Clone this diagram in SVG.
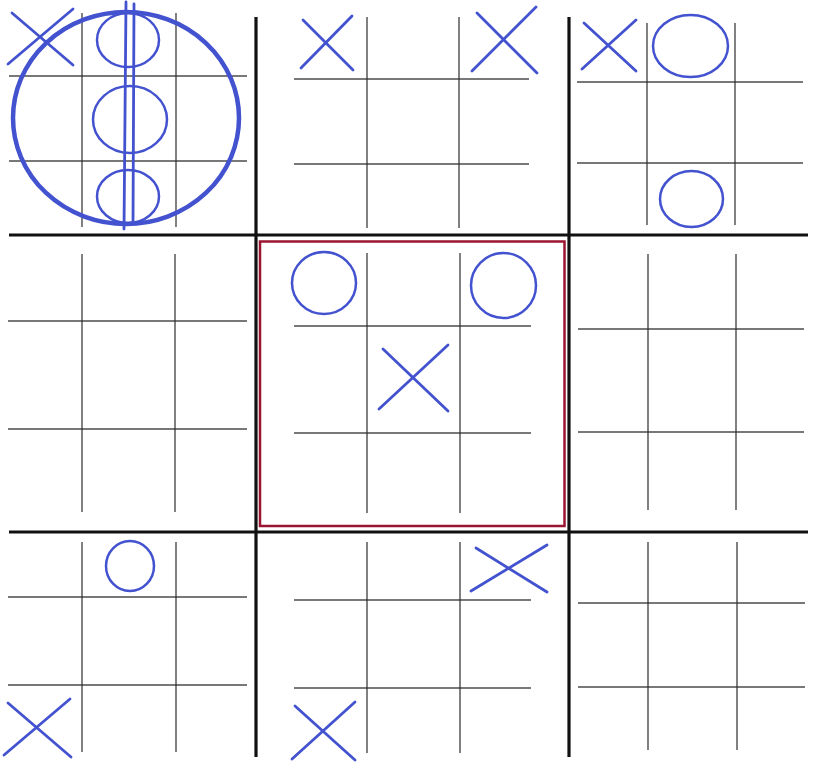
<svg xmlns="http://www.w3.org/2000/svg" width="825" height="770" viewBox="0 0 825 770">
<style>
.bg{fill:#ffffff}
.main{stroke:#111;stroke-width:3.2;fill:none;stroke-linecap:butt}
.sub{stroke:#2a2a2a;stroke-width:1.4;fill:none;opacity:0.85}
.m{stroke:#4352cf;stroke-width:2.8;fill:none;stroke-linecap:round}
.o{stroke:#4352cf;stroke-width:2.5;fill:none}
.big{stroke:#4352cf;stroke-width:4.5;fill:none}
.sel{stroke:#9b1530;stroke-width:2.5;fill:none}
</style>
<rect class="bg" x="0" y="0" width="825" height="770"/>
<g id="main-grid">
<line class="main" x1="256" y1="17" x2="256" y2="757"/>
<line class="main" x1="569" y1="17" x2="569" y2="757"/>
<line class="main" x1="9" y1="235" x2="808" y2="235"/>
<line class="main" x1="9" y1="532" x2="808" y2="532"/>
</g>
<g id="board-0">
<line class="sub" x1="82" y1="13" x2="82" y2="227"/>
<line class="sub" x1="176" y1="13" x2="176" y2="227"/>
<line class="sub" x1="9" y1="76" x2="247" y2="76"/>
<line class="sub" x1="9" y1="161" x2="247" y2="161"/>
<line class="m" x1="12" y1="13" x2="73" y2="65"/>
<line class="m" x1="73" y1="9" x2="8" y2="64"/>
<ellipse class="o" cx="128" cy="40" rx="31" ry="27"/>
<ellipse class="o" cx="130" cy="119.5" rx="37" ry="33.5"/>
<ellipse class="o" cx="128" cy="196.5" rx="31" ry="26.5"/>
<line class="m" x1="126" y1="2" x2="124" y2="229"/>
<line class="m" x1="134" y1="4" x2="133" y2="223"/>
<ellipse class="big" cx="126" cy="118" rx="113" ry="106"/>
</g>
<g id="board-1">
<line class="sub" x1="367" y1="17" x2="367" y2="228"/>
<line class="sub" x1="459" y1="17" x2="459" y2="228"/>
<line class="sub" x1="294" y1="79" x2="529" y2="79"/>
<line class="sub" x1="294" y1="164" x2="529" y2="164"/>
<line class="m" x1="303" y1="20" x2="353" y2="70"/>
<line class="m" x1="352" y1="16" x2="301" y2="68"/>
<line class="m" x1="477" y1="13" x2="537" y2="73"/>
<line class="m" x1="536" y1="7" x2="472" y2="71"/>
</g>
<g id="board-2">
<line class="sub" x1="647" y1="23" x2="647" y2="225"/>
<line class="sub" x1="735" y1="23" x2="735" y2="225"/>
<line class="sub" x1="577" y1="82" x2="803" y2="82"/>
<line class="sub" x1="577" y1="163" x2="803" y2="163"/>
<line class="m" x1="584" y1="23" x2="636" y2="71"/>
<line class="m" x1="636" y1="20" x2="582" y2="69"/>
<ellipse class="o" cx="690.5" cy="46" rx="37.5" ry="31"/>
<ellipse class="o" cx="691.5" cy="199" rx="31.5" ry="28"/>
</g>
<g id="board-3">
<line class="sub" x1="82" y1="254" x2="82" y2="512"/>
<line class="sub" x1="175" y1="254" x2="175" y2="512"/>
<line class="sub" x1="8" y1="321" x2="247" y2="321"/>
<line class="sub" x1="8" y1="429" x2="247" y2="429"/>
</g>
<g id="board-4">
<rect class="sel" x="260" y="241.5" width="304.5" height="284.5"/>
<line class="sub" x1="367" y1="253" x2="367" y2="513"/>
<line class="sub" x1="460" y1="253" x2="460" y2="513"/>
<line class="sub" x1="294" y1="326" x2="531" y2="326"/>
<line class="sub" x1="294" y1="433" x2="531" y2="433"/>
<ellipse class="o" cx="324" cy="283" rx="32" ry="31"/>
<ellipse class="o" cx="503.5" cy="285.5" rx="32.5" ry="32.5"/>
<line class="m" x1="383" y1="349" x2="448" y2="411"/>
<line class="m" x1="448" y1="345" x2="379" y2="409"/>
</g>
<g id="board-5">
<line class="sub" x1="648" y1="254" x2="648" y2="510"/>
<line class="sub" x1="736" y1="254" x2="736" y2="510"/>
<line class="sub" x1="578" y1="329" x2="804" y2="329"/>
<line class="sub" x1="578" y1="432" x2="804" y2="432"/>
</g>
<g id="board-6">
<line class="sub" x1="82" y1="542" x2="82" y2="752"/>
<line class="sub" x1="176" y1="542" x2="176" y2="752"/>
<line class="sub" x1="8" y1="597" x2="247" y2="597"/>
<line class="sub" x1="8" y1="685" x2="247" y2="685"/>
<ellipse class="o" cx="130" cy="566" rx="24" ry="25"/>
<line class="m" x1="8" y1="703" x2="71" y2="757"/>
<line class="m" x1="70" y1="699" x2="4" y2="755"/>
</g>
<g id="board-7">
<line class="sub" x1="367" y1="542" x2="367" y2="753"/>
<line class="sub" x1="460" y1="542" x2="460" y2="753"/>
<line class="sub" x1="294" y1="600" x2="531" y2="600"/>
<line class="sub" x1="294" y1="688" x2="531" y2="688"/>
<line class="m" x1="476" y1="548" x2="547" y2="592"/>
<line class="m" x1="547" y1="545" x2="471" y2="591"/>
<line class="m" x1="295" y1="706" x2="355" y2="760"/>
<line class="m" x1="355" y1="702" x2="292" y2="759"/>
</g>
<g id="board-8">
<line class="sub" x1="648" y1="542" x2="648" y2="750"/>
<line class="sub" x1="737" y1="542" x2="737" y2="750"/>
<line class="sub" x1="578" y1="603" x2="805" y2="603"/>
<line class="sub" x1="578" y1="687" x2="805" y2="687"/>
</g>
</svg>
